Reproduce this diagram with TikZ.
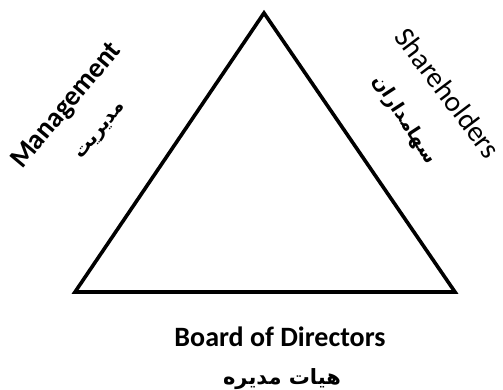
\documentclass[tikz,border=0pt]{standalone}
\usepackage{fontspec}
\setmainfont{Carlito}
\newfontfamily\arabicfont[Script=Arabic]{DejaVu Sans}
\TeXXeTstate=1
\begin{document}
\begin{tikzpicture}[x=1pt,y=-1pt,
  lbl/.style={inner sep=0pt, font=\fontsize{28}{32}\selectfont\bfseries},
  plbl/.style={inner sep=0pt, font=\arabicfont\fontsize{19}{22}\selectfont\bfseries}]
\useasboundingbox[fill=white] (0,0) rectangle (503,390);
\coordinate (top) at (264,13);
\coordinate (bl) at (75,292);
\coordinate (br) at (455,292);
\draw[line width=3.6pt, line join=miter] (top) -- (br) -- (bl) -- cycle;
\node[lbl, rotate=50] (mgmt) at (67,106) {Management};
\node[plbl, rotate=50] (mgmtfa) at (102,132) {\beginR مدیریت\endR};
\node[lbl, font=\fontsize{29}{32}\selectfont, rotate=-53] (sh) at (448,93) {Shareholders};
\node[plbl, rotate=-57] (shfa) at (404,120) {\beginR سهامداران\endR};
\node[lbl] (bod) at (280,337) {Board of Directors};
\node[plbl, font=\arabicfont\fontsize{21}{24}\selectfont\bfseries] (bodfa) at (282,379) {\beginR هیات مدیره\endR};
\end{tikzpicture}
\end{document}
